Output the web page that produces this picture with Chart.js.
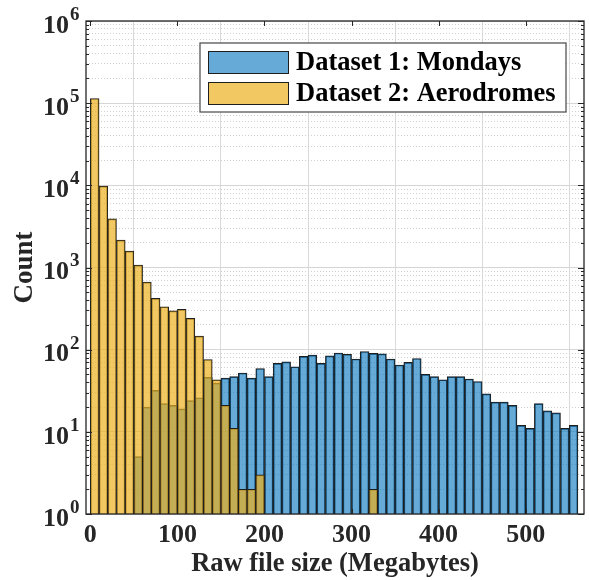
<!DOCTYPE html>
<html>
<head>
<meta charset="utf-8">
<script src="https://cdn.jsdelivr.net/npm/chart.js@4.4.0/dist/chart.umd.min.js"></script>
<style>
  html, body { margin: 0; padding: 0; background: #fff; }
</style>
</head>
<body>
<canvas id="histChart" width="589" height="580"></canvas>
<script>
// bin centres (MB), 10 MB wide bins
const binCenters = [5, 15, 25, 35, 45, 55, 65, 75, 85, 95,
  105, 115, 125, 135, 145, 155, 165, 175, 185, 195,
  205, 215, 225, 235, 245, 255, 265, 275, 285, 295,
  305, 315, 325, 335, 345, 355, 365, 375, 385, 395,
  405, 415, 425, 435, 445, 455, 465, 475, 485, 495,
  505, 515, 525, 535, 545, 555];

const mondaysCounts = [null, null, null, null, null, 5, 20, 32, 22, 21,
  19, 24, 26, 46, 39, 45, 47, 52, 45, 59,
  47, 68, 71, 62, 83, 86, 68, 84, 91, 88,
  77, 95, 90, 89, 77, 65, 70, 78, 50, 47,
  43, 47, 47, 44, 41, 29, 23, 23, 21, 12,
  11, 22, 18, 17, 11, 12];

const aerodromesCounts = [114000, 9800, 3900, 2150, 1580, 1070, 664, 421, 333, 297,
  309, 240, 146, 76, 43, 21, 11, 2, 2, 3,
  null, null, null, null, null, null, null, null, null, null,
  null, null, 2, null, null, null, null, null, null, null,
  null, null, null, null, null, null, null, null, null, null,
  null, null, null, null, null, null];

const legendLabels = ['Dataset 1: Mondays', 'Dataset 2: Aerodromes'];
const xTickValues = [0, 100, 200, 300, 400, 500];
const yDecades = [1, 10, 100, 1000, 10000, 100000, 1000000];
const yMinorSteps = [2, 3, 4, 5, 6, 7, 8, 9];

const blueFill = 'rgba(0, 114, 189, 0.6)';
const orangeFill = 'rgba(237, 177, 32, 0.7)';
const edgeColor = '#1e1e1e';
const axisColor = '#262626';
const serif = '"Liberation Serif", "Times New Roman", serif';

const yGridValues = [];
yDecades.forEach(d => {
  yGridValues.push(d);
  if (d < 1000000) yMinorSteps.forEach(m => yGridValues.push(m * d));
});
const isDecade = v => Math.abs(Math.log10(v) - Math.round(Math.log10(v))) < 1e-9;

function toPoints(counts) {
  return binCenters.map((x, i) => ({x: x, y: counts[i]})).filter(p => p.y);
}

const matlabAxes = {
  id: 'matlabAxes',
  afterDraw(chart) {
    const {ctx, chartArea: a, scales: {x, y}} = chart;
    ctx.save();
    // inward tick marks
    ctx.strokeStyle = axisColor;
    ctx.lineWidth = 1;
    ctx.beginPath();
    yGridValues.forEach(v => {
      const py = Math.round(y.getPixelForValue(v)) + 0.5;
      const len = isDecade(v) ? 6 : 3;
      ctx.moveTo(a.left, py); ctx.lineTo(a.left + len, py);
      ctx.moveTo(a.right, py); ctx.lineTo(a.right - len, py);
    });
    xTickValues.forEach(v => {
      const px = Math.round(x.getPixelForValue(v)) + 0.5;
      ctx.moveTo(px, a.bottom); ctx.lineTo(px, a.bottom - 5);
      ctx.moveTo(px, a.top); ctx.lineTo(px, a.top + 5);
    });
    ctx.stroke();
    // axes box
    ctx.lineWidth = 1.3;
    ctx.strokeRect(a.left, a.top, a.right - a.left, a.bottom - a.top);

    // y labels 10^n
    ctx.fillStyle = axisColor;
    ctx.textBaseline = 'middle';
    yDecades.forEach((v, n) => {
      const py = y.getPixelForValue(v);
      ctx.font = 'bold 26px ' + serif;
      ctx.textAlign = 'right';
      ctx.fillText('10', a.left - 17, py + 5);
      ctx.font = 'bold 19px ' + serif;
      ctx.textAlign = 'left';
      ctx.fillText(String(n), a.left - 16, py - 6);
    });

    // legend
    const lx = a.right - 384, ly = a.top + 22, lw = 366, lh = 69;
    ctx.fillStyle = '#fff';
    ctx.fillRect(lx, ly, lw, lh);
    ctx.strokeStyle = '#555';
    ctx.lineWidth = 1.3;
    ctx.strokeRect(lx, ly, lw, lh);
    [blueFill, orangeFill].forEach((fill, i) => {
      const sy = ly + 8 + i * 31;
      ctx.fillStyle = fill;
      ctx.fillRect(lx + 8, sy, 81, 23);
      ctx.strokeStyle = edgeColor;
      ctx.lineWidth = 1;
      ctx.strokeRect(lx + 8.5, sy + 0.5, 80, 22);
      ctx.fillStyle = '#000';
      ctx.font = 'bold 26.5px ' + serif;
      ctx.textAlign = 'left';
      ctx.textBaseline = 'middle';
      ctx.fillText(legendLabels[i], lx + 96, sy + 12);
    });
    ctx.restore();
  }
};

const ctx = document.getElementById('histChart').getContext('2d');

new Chart(ctx, {
  type: 'bar',
  data: {
    datasets: [{
      label: legendLabels[0],
      data: toPoints(mondaysCounts),
      backgroundColor: blueFill,
      borderColor: edgeColor,
      borderWidth: 1,
      order: 1
    }, {
      label: legendLabels[1],
      data: toPoints(aerodromesCounts),
      backgroundColor: orangeFill,
      borderColor: edgeColor,
      borderWidth: 1,
      order: 0
    }]
  },
  options: {
    responsive: false,
    animation: false,
    layout: {padding: {top: 21, right: 5, left: 0, bottom: 0}},
    datasets: {
      bar: {grouped: false, barPercentage: 1, categoryPercentage: 1}
    },
    plugins: {
      legend: {display: false},
      tooltip: {enabled: false}
    },
    scales: {
      x: {
        type: 'linear',
        min: -5,
        max: 567,
        offset: false,
        afterBuildTicks: s => { s.ticks = xTickValues.map(v => ({value: v})); },
        afterFit: s => { s.height = 66; },
        grid: {color: '#dadada', lineWidth: 1, drawTicks: false},
        border: {display: false},
        ticks: {
          padding: 6,
          color: axisColor,
          maxRotation: 0,
          autoSkip: false,
          font: {family: serif, size: 26, weight: 'bold'}
        },
        title: {
          display: true,
          text: 'Raw file size (Megabytes)',
          color: axisColor,
          padding: 0,
          font: {family: serif, size: 26.5, weight: 'bold'}
        }
      },
      y: {
        type: 'logarithmic',
        min: 1,
        max: 1000000,
        afterBuildTicks: s => { s.ticks = yGridValues.map(v => ({value: v})); },
        afterFit: s => { s.width = 86; },
        grid: {
          color: c => (c.tick && isDecade(c.tick.value)) ? '#d6d6d6' : '#d0d0d0',
          lineWidth: 1,
          drawTicks: false
        },
        border: {
          display: false,
          dash: c => (c.tick && !isDecade(c.tick.value)) ? [1, 2] : []
        },
        ticks: {display: false},
        title: {
          display: true,
          text: 'Count',
          color: axisColor,
          padding: {top: 9, bottom: 0},
          font: {family: serif, size: 27, weight: 'bold'}
        }
      }
    }
  },
  plugins: [matlabAxes]
});
</script>
</body>
</html>
